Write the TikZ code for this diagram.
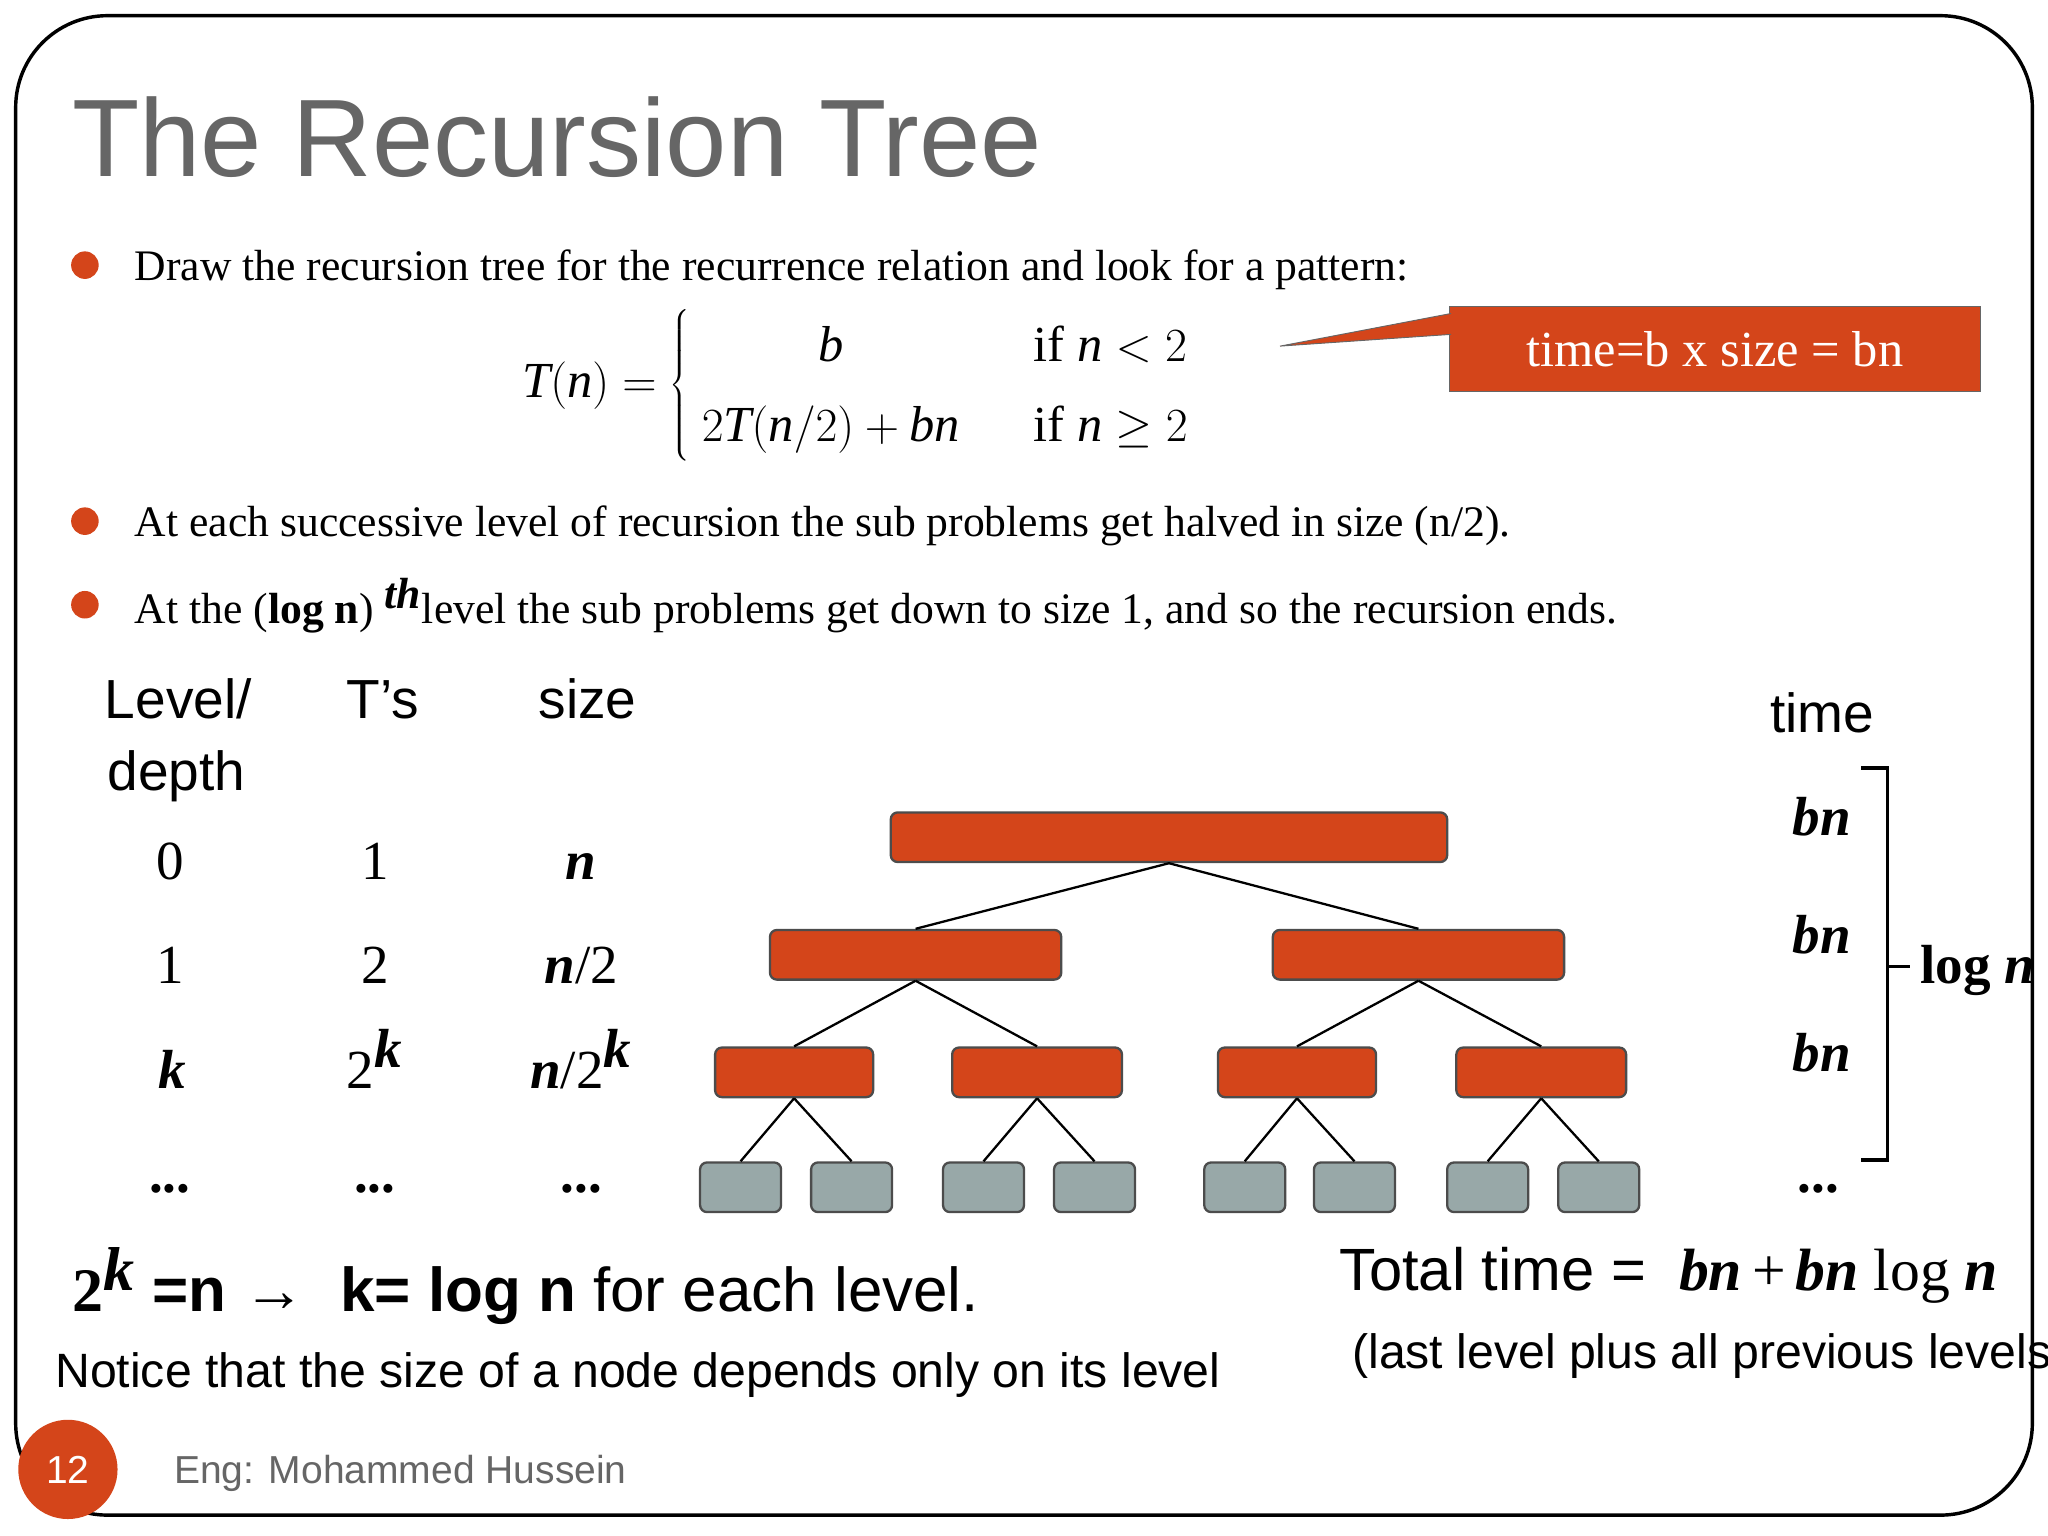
\documentclass[tikz,border=0pt]{standalone}
\usepackage{fontspec}
\setmainfont{Liberation Serif}
\newfontfamily\mysf{Liberation Sans}
\definecolor{org}{HTML}{D4451A}
\definecolor{gr}{HTML}{98A8A8}
\definecolor{tgray}{HTML}{666666}
\newcommand{\fs}[1]{\fontsize{#1}{#1}\selectfont}
\begin{document}
\begin{tikzpicture}[x=0.02cm,y=-0.02cm,
 onode/.style={draw=black!70,fill=org,rounded corners=3pt,line width=1pt},
 gnode/.style={draw=black!70,fill=gr,rounded corners=3pt,line width=1pt},
 edge/.style={line width=1pt},
 bl/.style={anchor=base west,inner sep=0},
 bc/.style={anchor=base,inner sep=0},
 dot/.style={circle,fill=org,inner sep=0,minimum size=12pt}]
\useasboundingbox (0,0) rectangle (1568,1176);
\fill[white] (0,0) rectangle (1568,1176);
\draw[line width=1.5pt,rounded corners=40pt] (12,12) rectangle (1556,1160);
\node[bl,text=tgray] (title) at (55,135) {\mysf\fs{48}The Recursion Tree};
% bullets
\node[dot] (d1) at (65,203) {};
\node[dot] (d2) at (65,399) {};
\node[dot] (d3) at (65,463) {};
\node[bl] (b1) at (103,215) {\fs{19}Draw the recursion tree for the recurrence relation and look for a pattern:};
\node[bl] (b2) at (103,411) {\fs{19}At each successive level of recursion the sub problems get halved in size (n/2).};
\node[bl] (b3) at (103,477) {\fs{19}At the (\textbf{log n}) $^{\textbf{\textit{th}}}$level the sub problems get down to size 1, and so the recursion ends.};
% equation
\node[inner sep=0] (eq) at (660,295) {\fs{22}$\textit{T}(\textit{n}) = \left\{\renewcommand{\arraystretch}{1.6}\begin{array}{cl} \textit{b} & \quad\mbox{if } \textit{n}<2\\ 2\textit{T}(\textit{n}/2)+\textit{bn} & \quad\mbox{if } \textit{n}\ge 2\end{array}\right.$};
% callout
\node[draw=black!60,fill=org,minimum width=406*0.02cm,minimum height=65*0.02cm,inner sep=0,text=white] (call) at (1313,267) {\fs{22}time=b x size = bn};
\coordinate (tip) at (980,265);
\fill[org] (1111,240) -- (tip) -- (1111,256) -- cycle;
\draw[black!60] (1111,240) -- (tip) -- (1111,256);
% table headers
\node[bl] (h1) at (80,550) {\mysf\fs{24}Level/};
\node[bl] (h1b) at (82,605) {\mysf\fs{24}depth};
\node[bl] (h2) at (265,550) {\mysf\fs{24}T’s};
\node[bl] (h3) at (412,550) {\mysf\fs{24}size};
\node[bl] (h4) at (1355,561) {\mysf\fs{24}time};
% rows
\node[bc] (r00) at (130,673) {\fs{24}0};
\node[bc] (r01) at (287,673) {\fs{24}1};
\node[bc] (r02) at (445,673) {\fs{24}\textbf{\textit{n}}};
\node[bc] (r10) at (130,753) {\fs{24}1};
\node[bc] (r11) at (287,753) {\fs{24}2};
\node[bc] (r12) at (445,753) {\fs{24}\textbf{\textit{n}}/2};
\node[bc] (r20) at (132,833) {\fs{24}\textbf{\textit{k}}};
\node[bc] (r21) at (287,833) {\fs{24}2$^{\textbf{\textit{k}}}$};
\node[bc] (r22) at (445,833) {\fs{24}\textbf{\textit{n}}/2$^{\textbf{\textit{k}}}$};
\node[bc] (r30) at (130,913) {\fs{24}\textbf{...}};
\node[bc] (r31) at (287,913) {\fs{24}\textbf{...}};
\node[bc] (r32) at (445,913) {\fs{24}\textbf{...}};
% time column
\node[bc] (t0) at (1395,640) {\fs{24}\textbf{\textit{bn}}};
\node[bc] (t1) at (1395,730) {\fs{24}\textbf{\textit{bn}}};
\node[bc] (t2) at (1395,820) {\fs{24}\textbf{\textit{bn}}};
\node[bc] (t3) at (1392,913) {\fs{24}\textbf{...}};
\draw[line width=1.5pt] (1425,588) -- (1445,588) -- (1445,888) -- (1425,888);
\draw[line width=1.5pt] (1445,740) -- (1462,740);
\node[bl] (logn) at (1470,753) {\fs{24}\textbf{log \textit{n}}};
% tree
\node[onode,minimum width=426*0.02cm,minimum height=38*0.02cm] (R) at (895,641) {};
\node[onode,minimum width=223*0.02cm,minimum height=38*0.02cm] (A) at (701,731) {};
\node[onode,minimum width=223*0.02cm,minimum height=38*0.02cm] (B) at (1086,731) {};
\node[onode,minimum width=121*0.02cm,minimum height=38*0.02cm] (A1) at (608,821) {};
\node[onode,minimum width=130*0.02cm,minimum height=38*0.02cm] (A2) at (794,821) {};
\node[onode,minimum width=121*0.02cm,minimum height=38*0.02cm] (B1) at (993,821) {};
\node[onode,minimum width=130*0.02cm,minimum height=38*0.02cm] (B2) at (1180,821) {};
\foreach \n/\x in {a/567,b/652,c/753,d/838,e/953,f/1037,g/1139,h/1224}
  \node[gnode,minimum width=62*0.02cm,minimum height=38*0.02cm] (L\n) at (\x,909) {};
\draw[edge] (R.south) -- (A.north);
\draw[edge] (R.south) -- (B.north);
\draw[edge] (A.south) -- (A1.north);
\draw[edge] (A.south) -- (A2.north);
\draw[edge] (B.south) -- (B1.north);
\draw[edge] (B.south) -- (B2.north);
\draw[edge] (A1.south) -- (La.north); \draw[edge] (A1.south) -- (Lb.north);
\draw[edge] (A2.south) -- (Lc.north); \draw[edge] (A2.south) -- (Ld.north);
\draw[edge] (B1.south) -- (Le.north); \draw[edge] (B1.south) -- (Lf.north);
\draw[edge] (B2.south) -- (Lg.north); \draw[edge] (B2.south) -- (Lh.north);
% bottom text
\node[bl] (k) at (55,1004) {\fs{27}\textbf{2$^{\textbf{\textit{k}}}$}\mysf\textbf{ =n → \ k= log n} for each level.};
\node[bl] (notice) at (42,1062) {\mysf\fs{21}Notice that the size of a node depends only on its level};
\node[bl] (total) at (1025,988) {\mysf\fs{26}Total time = \ \rmfamily\textbf{\textit{bn}}\,+\,\textbf{\textit{bn}} log \textbf{\textit{n}}};
\node[bl] (last) at (1035,1048) {\mysf\fs{21}(last level plus all previous levels)};
% footer
\node[circle,fill=org,minimum size=76*0.02cm,inner sep=0,text=white] (pg) at (52,1125) {\mysf\fs{17}12};
\node[bl,text=tgray] (eng) at (133,1136) {\mysf\fs{17}Eng: Mohammed Hussein};
\end{tikzpicture}
\end{document}
